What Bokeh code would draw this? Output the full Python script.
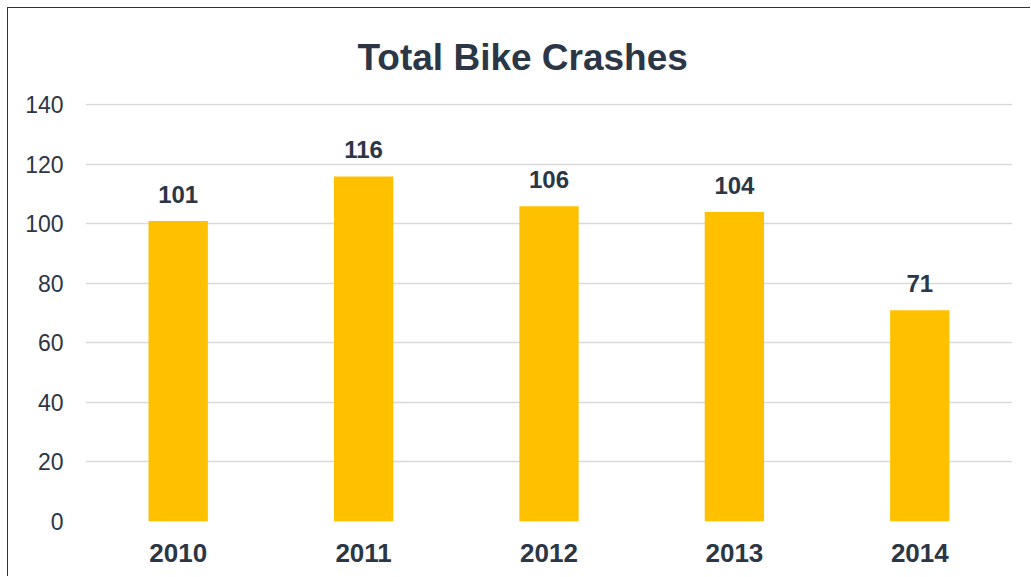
from bokeh.plotting import figure
from bokeh.models import ColumnDataSource, FixedTicker, LabelSet, Range1d
from bokeh.core.properties import value
from bokeh.embed import file_html
from bokeh.resources import INLINE

years = ["2010", "2011", "2012", "2013", "2014"]
crashes = [101, 116, 106, 104, 71]
y_ticks = [0, 20, 40, 60, 80, 100, 120, 140]

TEXT = "#2B3646"
FONT = "Liberation Sans"

src = ColumnDataSource(dict(year=years, crashes=crashes, label=[str(v) for v in crashes]))

p = figure(x_range=years, y_range=Range1d(0, 140.5), width=1023, height=569,
           output_backend="svg", toolbar_location=None,
           min_border_left=77, min_border_right=19, min_border_top=95, min_border_bottom=56)
p.styles = {"border-left": "1px solid #333333", "border-top": "1px solid #333333",
            "margin-left": "7px", "margin-top": "7px"}

p.title.text = "Total Bike Crashes"
p.title.align = "left"
p.title.text_font = FONT
p.title.text_font_size = "37px"
p.title.text_font_style = "bold"
p.title.text_color = TEXT
p.title.offset = 272
p.title.standoff = 51

p.vbar(x="year", top="crashes", width=0.32, source=src, color="#FFC000", line_color=None)

labels = LabelSet(x="year", y="crashes", text="label", source=src, text_align="center",
                  text_baseline="alphabetic", y_offset=18, text_font=value(FONT),
                  text_font_size="24px", text_font_style="bold", text_color=TEXT)
p.add_layout(labels)

p.outline_line_color = None
p.xgrid.grid_line_color = None
p.ygrid.grid_line_color = "#D9D9D9"
p.ygrid.grid_line_width = 1.5
p.yaxis.ticker = FixedTicker(ticks=y_ticks)

for ax in (p.xaxis, p.yaxis):
    ax.axis_line_color = None
    ax.major_tick_line_color = None
    ax.minor_tick_line_color = None
    ax.major_label_text_color = TEXT
    ax.major_label_text_font = FONT

p.yaxis.major_label_text_font_size = "23px"
p.yaxis.major_label_standoff = 16
p.xaxis.major_label_text_font_size = "26px"
p.xaxis.major_label_text_font_style = "bold"
p.xaxis.major_label_standoff = 16

open("out.html", "w").write(file_html(p, INLINE))
